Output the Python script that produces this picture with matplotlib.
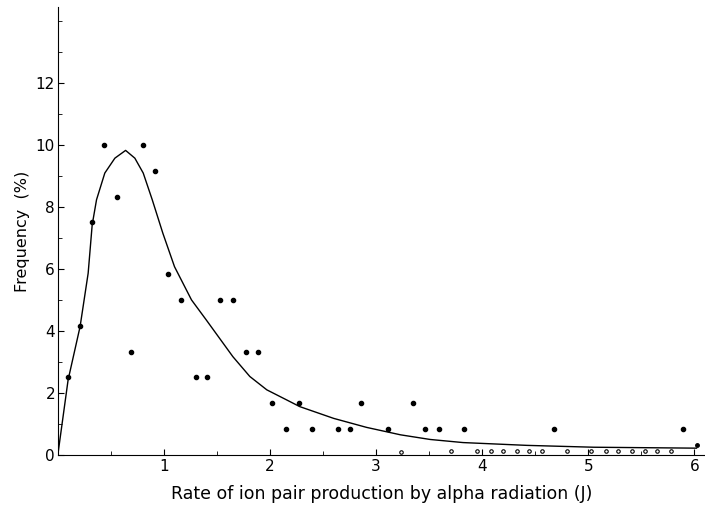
import numpy as np
from matplotlib import pyplot as plt
from matplotlib.ticker import MultipleLocator

# observed frequencies (points)
obs_x = [0.10, 0.21, 0.32, 0.44, 0.56, 0.69, 0.80, 0.92, 1.04, 1.16, 1.30, 1.41,
         1.53, 1.65, 1.77, 1.89, 2.02, 2.15, 2.27, 2.40, 2.64, 2.75, 2.86, 3.11,
         3.35, 3.46, 3.59, 3.83, 4.68, 5.89]
obs_y = [2.5, 4.17, 7.5, 10.0, 8.33, 3.33, 10.0, 9.17, 5.83, 5.0, 2.5, 2.5,
         5.0, 5.0, 3.33, 3.33, 1.67, 0.83, 1.67, 0.83, 0.83, 0.83, 1.67, 0.83,
         1.67, 0.83, 0.83, 0.83, 0.83, 0.83]

# small points sitting on the axis
zero_x = [3.23, 3.71, 3.95, 4.08, 4.20, 4.33, 4.44, 4.56, 4.80, 5.03, 5.17,
          5.28, 5.41, 5.53, 5.65, 5.78]
zero_y = [0.1, 0.12, 0.13, 0.13, 0.13, 0.13, 0.13, 0.13, 0.13, 0.13, 0.13,
          0.13, 0.13, 0.13, 0.13, 0.13]
end_x = [6.02]
end_y = [0.32]

# fitted curve
curve_x = [0.0, 0.097, 0.21, 0.286, 0.324, 0.365, 0.443, 0.538, 0.639, 0.726,
           0.805, 0.89, 0.99, 1.10, 1.26, 1.40, 1.65, 1.81, 1.97, 2.16, 2.28,
           2.60, 2.91, 3.23, 3.51, 3.82, 4.42, 5.05, 6.02]
curve_y = [0.0, 2.42, 4.14, 5.86, 7.42, 8.23, 9.09, 9.57, 9.82, 9.57,
           9.09, 8.23, 7.15, 6.07, 5.0, 4.35, 3.17, 2.53, 2.10, 1.77, 1.56,
           1.18, 0.89, 0.65, 0.50, 0.40, 0.31, 0.25, 0.22]

xticks = [1, 2, 3, 4, 5, 6]
yticks = [0, 2, 4, 6, 8, 10, 12]

plt.rcParams["font.family"] = "DejaVu Sans"

fig = plt.figure(figsize=(7.05, 5.07), dpi=100)
ax = fig.add_axes([0.082, 0.1026, 0.918, 0.884])

ax.plot(curve_x, curve_y, color="black", lw=1.0)
ax.plot(obs_x, obs_y, "o", color="black", ms=3.0)
ax.plot(zero_x, zero_y, "o", mfc="white", mec="black", ms=2.5, mew=0.8)
ax.plot(end_x, end_y, "o", color="black", ms=2.5)

ax.set_xlim(0, 6.10)
ax.set_ylim(0, 14.45)
ax.set_xticks(xticks)
ax.set_yticks(yticks)
ax.xaxis.set_minor_locator(MultipleLocator(0.5))
ax.yaxis.set_minor_locator(MultipleLocator(1))
ax.tick_params(which="both", direction="in", labelsize=11, pad=3)
ax.tick_params(which="major", length=4)
ax.tick_params(which="minor", length=3)
ax.tick_params(axis="y", pad=2)

ax.spines["top"].set_visible(False)
ax.spines["right"].set_visible(False)

ax.set_xlabel("Rate of ion pair production by alpha radiation (J)", fontsize=12.5, labelpad=8)
ax.set_ylabel("Frequency  (%)", fontsize=11.5, labelpad=4)

fig.savefig("out.png", dpi=100)
